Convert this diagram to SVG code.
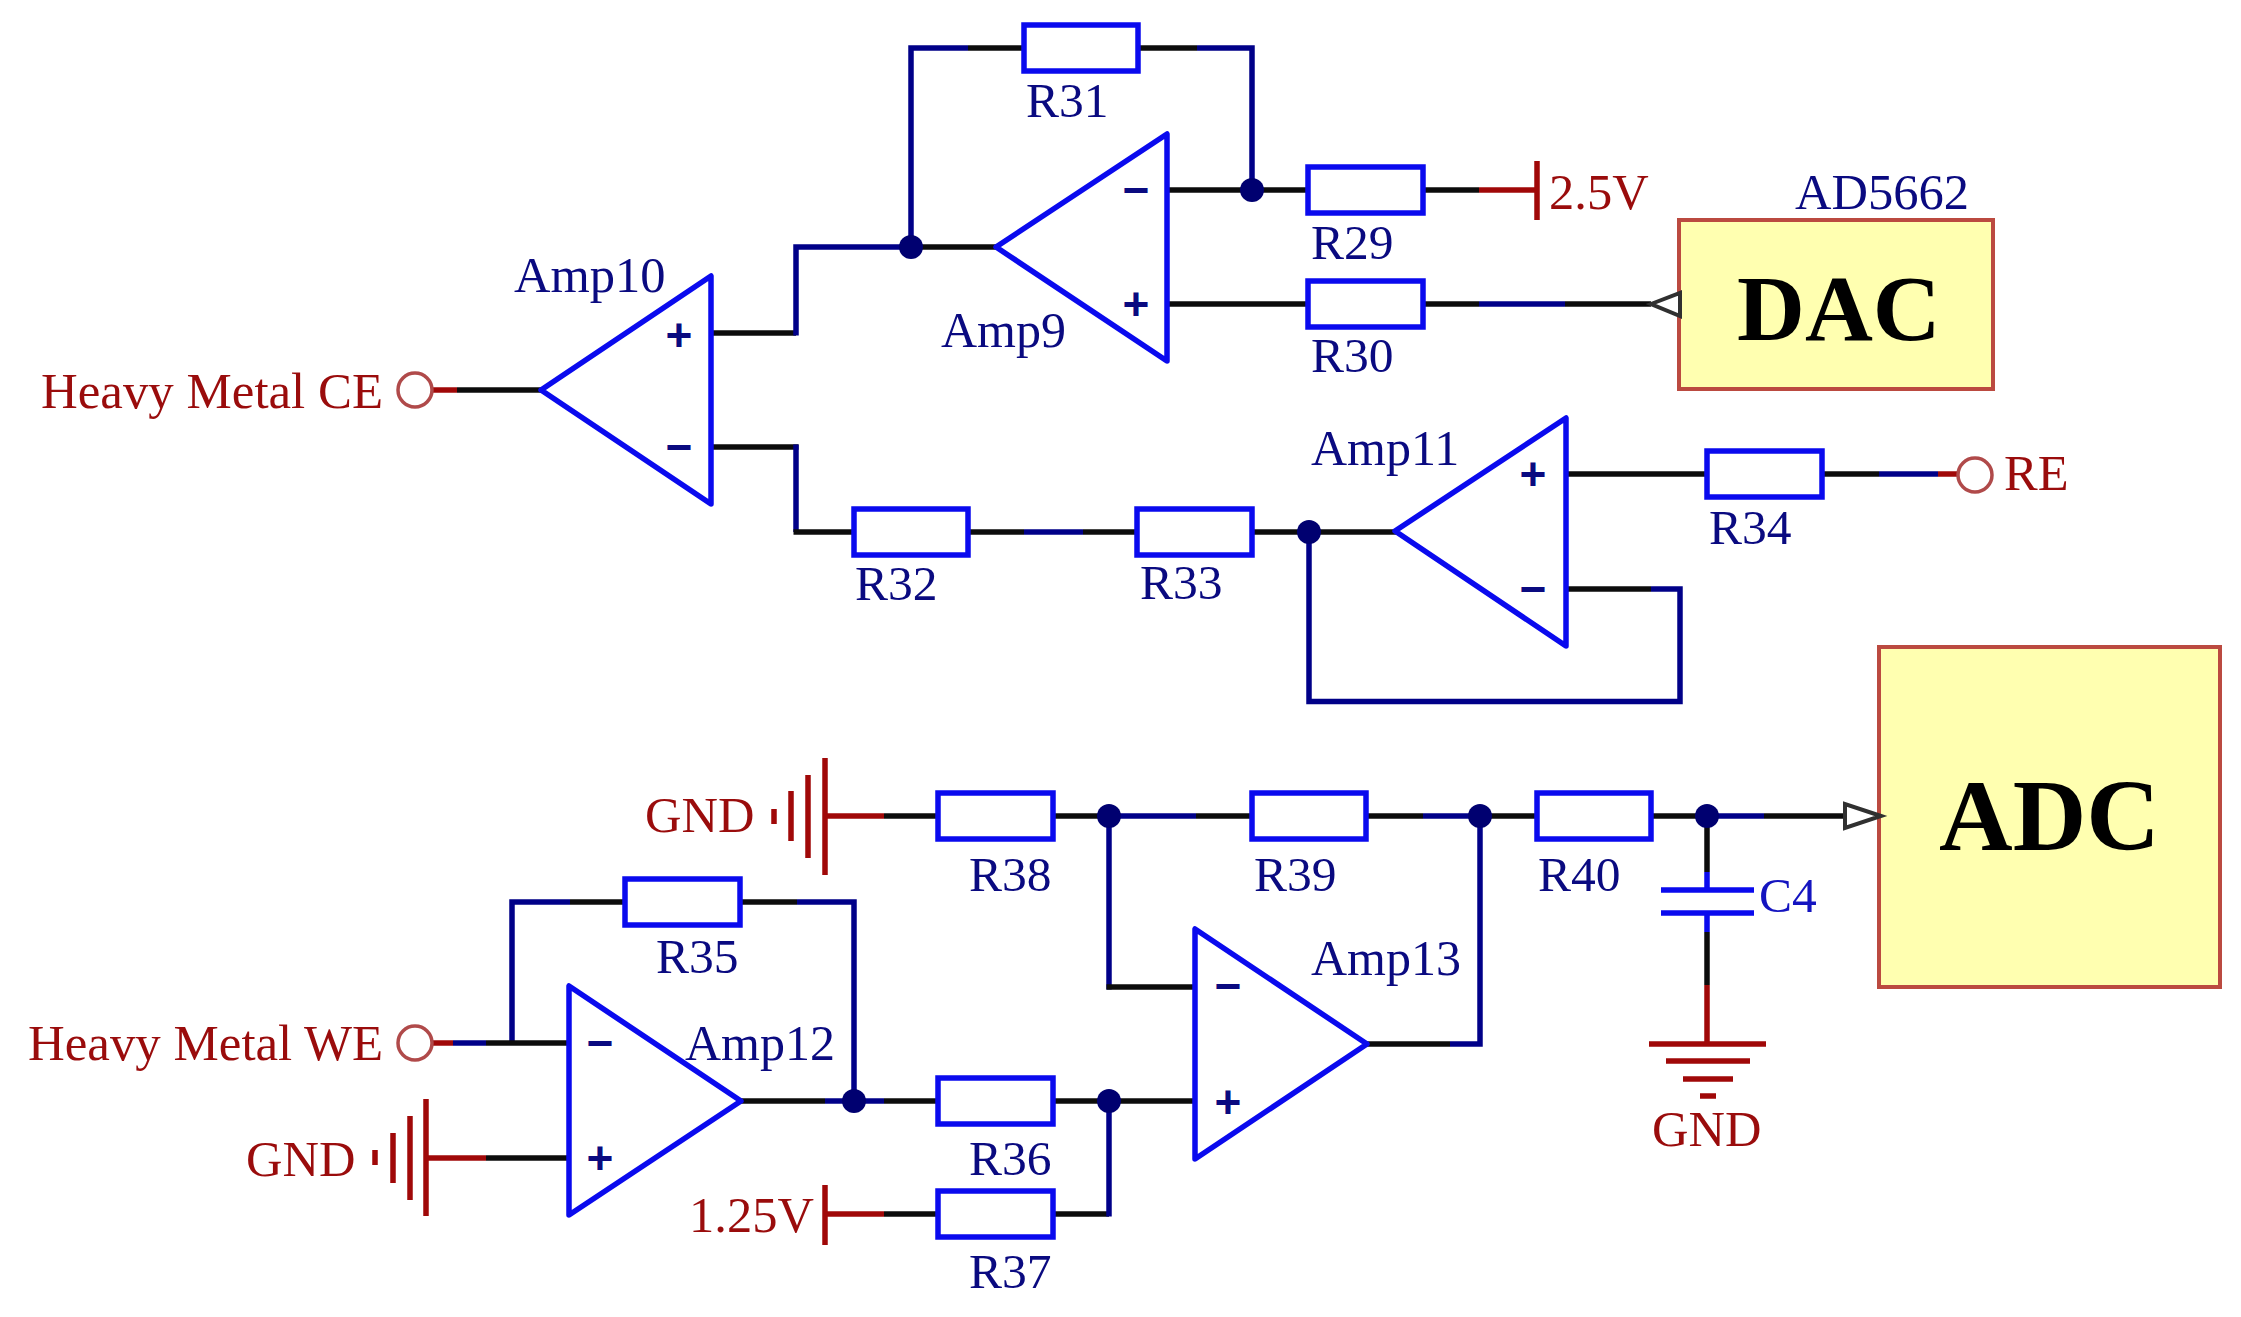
<svg xmlns="http://www.w3.org/2000/svg" width="2241" height="1317" viewBox="0 0 2241 1317">
<style>
text{font-family:"Liberation Serif","Times New Roman",serif;font-size:49.500px}
.lb{fill:#0a0a80}
.lr{fill:#9a0c0c;font-size:50.500px}
.hm{font-size:50.900px}
.big{font-weight:bold;fill:#000}
.sign{font-family:"Liberation Sans",Arial,sans-serif;font-weight:bold;font-size:46px;fill:#0a0a80;text-anchor:middle}
.res{fill:#fff;stroke:#0a0aee;stroke-width:5.500}
.amp{fill:none;stroke:#0a0aee;stroke-width:5.500;stroke-linejoin:round}
.box{fill:#ffffb0;stroke:#bb4a40;stroke-width:4}
.k,.n,.r,.b{fill:none;stroke-width:5.500;stroke-linejoin:miter;stroke-linecap:butt}
.k{stroke:#0c0c0c}.n{stroke:#000088}.r{stroke:#a00808}.b{stroke:#0a0aee}
.dot{fill:#000070}
.port{fill:#fff;stroke:#b04a4a;stroke-width:3.500}
.tip{fill:#fff;stroke:#303030;stroke-width:4;stroke-linejoin:miter}
</style>
<rect width="2241" height="1317" fill="#fff"/>
<g id="connectors">
<path class="k" d="M711 333H796"/><path class="n" d="M796 335.500V247H911"/><path class="k" d="M911 247H998"/>
<path class="n" d="M911 247V48H968"/><path class="k" d="M968 48H1024"/>
<path class="k" d="M1139 48H1197"/><path class="n" d="M1197 48H1252V190"/>
<path class="k" d="M1167 190H1308"/><path class="k" d="M1424 190H1479"/><path class="r" d="M1479 190H1537"/>
<path class="k" d="M1167 304H1308"/><path class="k" d="M1424 304H1479"/><path class="n" d="M1479 304H1565"/><path class="k" d="M1565 304H1651"/>
<path class="r" d="M433 390H457"/><path class="k" d="M457 390H543"/>
<path class="k" d="M711 447H798.500"/><path class="n" d="M796 444.500V532"/><path class="k" d="M793.500 532H854"/>
<path class="k" d="M969 532H1024"/><path class="n" d="M1024 532H1083"/><path class="k" d="M1083 532H1136"/>
<path class="k" d="M1253 532H1397"/>
<path class="n" d="M1309 532V701.500H1680V589H1651"/><path class="k" d="M1651 589H1566"/>
<path class="k" d="M1566 474H1707"/><path class="k" d="M1824 474H1879"/><path class="n" d="M1879 474H1938"/><path class="r" d="M1938 474H1958"/>
<path class="r" d="M825 816H884"/><path class="k" d="M884 816H937"/>
<path class="k" d="M1055 816H1109"/><path class="n" d="M1109 816H1196"/><path class="k" d="M1196 816H1251"/>
<path class="k" d="M1367 816H1423"/><path class="n" d="M1423 816H1480"/><path class="k" d="M1480 816H1536"/>
<path class="k" d="M1652 816H1707"/><path class="n" d="M1707 816H1764"/><path class="k" d="M1764 816H1845"/>
<path class="n" d="M1109 816V989.500"/><path class="k" d="M1106.500 987H1195"/>
<path class="n" d="M1480 816V1044H1450"/><path class="k" d="M1450 1044H1367"/>
<path class="k" d="M1707 816V872"/><path class="b" d="M1707 872V890M1707 913V932"/><path class="k" d="M1707 932V985"/><path class="r" d="M1707 985V1044"/>
<path class="n" d="M512 1043V902H570"/><path class="k" d="M570 902H625"/><path class="k" d="M741 902H797"/><path class="n" d="M797 902H854V1101"/>
<path class="r" d="M433 1043H453"/><path class="n" d="M453 1043H486"/><path class="k" d="M486 1043H569"/>
<path class="r" d="M426 1158H486"/><path class="k" d="M486 1158H569"/>
<path class="k" d="M740 1101H825"/><path class="n" d="M825 1101H884"/><path class="k" d="M884 1101H937"/>
<path class="k" d="M1055 1101H1195"/>
<path class="r" d="M825 1214H884"/><path class="k" d="M884 1214H937"/>
<path class="k" d="M1055 1214H1109"/><path class="n" d="M1109 1216.500V1101"/>
</g>
<g id="junctions">
<circle class="dot" cx="911" cy="247" r="12"/><circle class="dot" cx="1252" cy="190" r="12"/><circle class="dot" cx="1309" cy="532" r="12"/>
<circle class="dot" cx="1109" cy="816" r="12"/><circle class="dot" cx="1480" cy="816" r="12"/><circle class="dot" cx="1707" cy="816" r="12"/>
<circle class="dot" cx="854" cy="1101" r="12"/><circle class="dot" cx="1109" cy="1101" r="12"/>
</g>
<g id="Amp10"><path class="amp" d="M541 390L711 276V504Z"/><text class="sign" x="679" y="351">+</text><text class="sign" x="679" y="463">−</text><text class="lb" x="514" y="292" style="font-size:50.500px">Amp10</text></g>
<g id="Amp9"><path class="amp" d="M996 247L1167 134V361Z"/><text class="sign" x="1136" y="206">−</text><text class="sign" x="1136" y="320">+</text><text class="lb" x="941" y="347" style="font-size:50px">Amp9</text></g>
<g id="Amp11"><path class="amp" d="M1395 531L1566 418V646Z"/><text class="sign" x="1533" y="490">+</text><text class="sign" x="1533" y="605">−</text><text class="lb" x="1311" y="465" style="font-size:50px">Amp11</text></g>
<g id="Amp12"><path class="amp" d="M741 1101L569 986V1215Z"/><text class="sign" x="600" y="1059">−</text><text class="sign" x="600" y="1174">+</text><text class="lb" x="685" y="1060" style="font-size:50px">Amp12</text></g>
<g id="Amp13"><path class="amp" d="M1367 1044L1195 929V1159Z"/><text class="sign" x="1228" y="1002">−</text><text class="sign" x="1228" y="1118">+</text><text class="lb" x="1311" y="975" style="font-size:50px">Amp13</text></g>
<g id="R29"><rect class="res" x="1308" y="167" width="115" height="46"/><text class="lb" x="1311" y="259">R29</text></g>
<g id="R30"><rect class="res" x="1308" y="281" width="115" height="46"/><text class="lb" x="1311" y="372">R30</text></g>
<g id="R31"><rect class="res" x="1024" y="25" width="114" height="46"/><text class="lb" x="1026" y="117">R31</text></g>
<g id="R32"><rect class="res" x="854" y="509" width="114" height="46"/><text class="lb" x="855" y="600">R32</text></g>
<g id="R33"><rect class="res" x="1137" y="509" width="115" height="46"/><text class="lb" x="1140" y="599">R33</text></g>
<g id="R34"><rect class="res" x="1707" y="451" width="115" height="46"/><text class="lb" x="1709" y="544">R34</text></g>
<g id="R35"><rect class="res" x="625" y="879" width="115" height="46"/><text class="lb" x="656" y="973">R35</text></g>
<g id="R36"><rect class="res" x="938" y="1078" width="115" height="46"/><text class="lb" x="969" y="1175">R36</text></g>
<g id="R37"><rect class="res" x="938" y="1191" width="115" height="46"/><text class="lb" x="969" y="1288">R37</text></g>
<g id="R38"><rect class="res" x="938" y="793" width="115" height="46"/><text class="lb" x="969" y="891">R38</text></g>
<g id="R39"><rect class="res" x="1252" y="793" width="114" height="46"/><text class="lb" x="1254" y="891">R39</text></g>
<g id="R40"><rect class="res" x="1537" y="793" width="114" height="46"/><text class="lb" x="1538" y="891">R40</text></g>
<g id="C4"><path class="b" d="M1661 890H1754M1661 913H1754"/><text class="lb" x="1759" y="912" style="fill:#1414c0">C4</text></g>
<g id="DAC"><rect class="box" x="1679" y="220" width="314" height="169"/><text class="big" x="1737" y="340" style="font-size:94px">DAC</text><text class="lb" x="1795" y="209" style="font-size:50.500px">AD5662</text></g>
<g id="ADC"><rect class="box" x="1879" y="647" width="341" height="340"/><text class="big" x="1939" y="850" style="font-size:102px">ADC</text></g>
<g id="port-DAC"><path class="tip" d="M1651 304L1680 293V316Z"/></g>
<g id="port-ADC"><path class="tip" d="M1881 816L1845 804V828Z"/></g>
<g id="HeavyMetalCE"><circle class="port" cx="415" cy="390" r="17"/><text class="lr hm" x="41" y="408">Heavy Metal CE</text></g>
<g id="HeavyMetalWE"><circle class="port" cx="415" cy="1043" r="17"/><text class="lr hm" x="28" y="1060">Heavy Metal WE</text></g>
<g id="RE"><circle class="port" cx="1975" cy="475" r="17"/><text class="lr" x="2004" y="490">RE</text></g>
<g id="V25"><path class="r" d="M1537 161V220"/><text class="lr" x="1549" y="209">2.5V</text></g>
<g id="V125"><path class="r" d="M825 1185V1245"/><text class="lr" x="689" y="1232">1.25V</text></g>
<g id="GND1"><path class="r" d="M825 758V875M808 775V858M791 791V841M774 809V824"/><text class="lr" x="645" y="832">GND</text></g>
<g id="GND2"><path class="r" d="M426 1099V1216M410 1116V1200M393 1133V1183M375 1150V1165"/><text class="lr" x="246" y="1176">GND</text></g>
<g id="GND3"><path class="r" d="M1649 1044H1766M1666 1061H1750M1683 1079H1733M1700 1096H1716"/><text class="lr" x="1652" y="1146">GND</text></g>
</svg>
